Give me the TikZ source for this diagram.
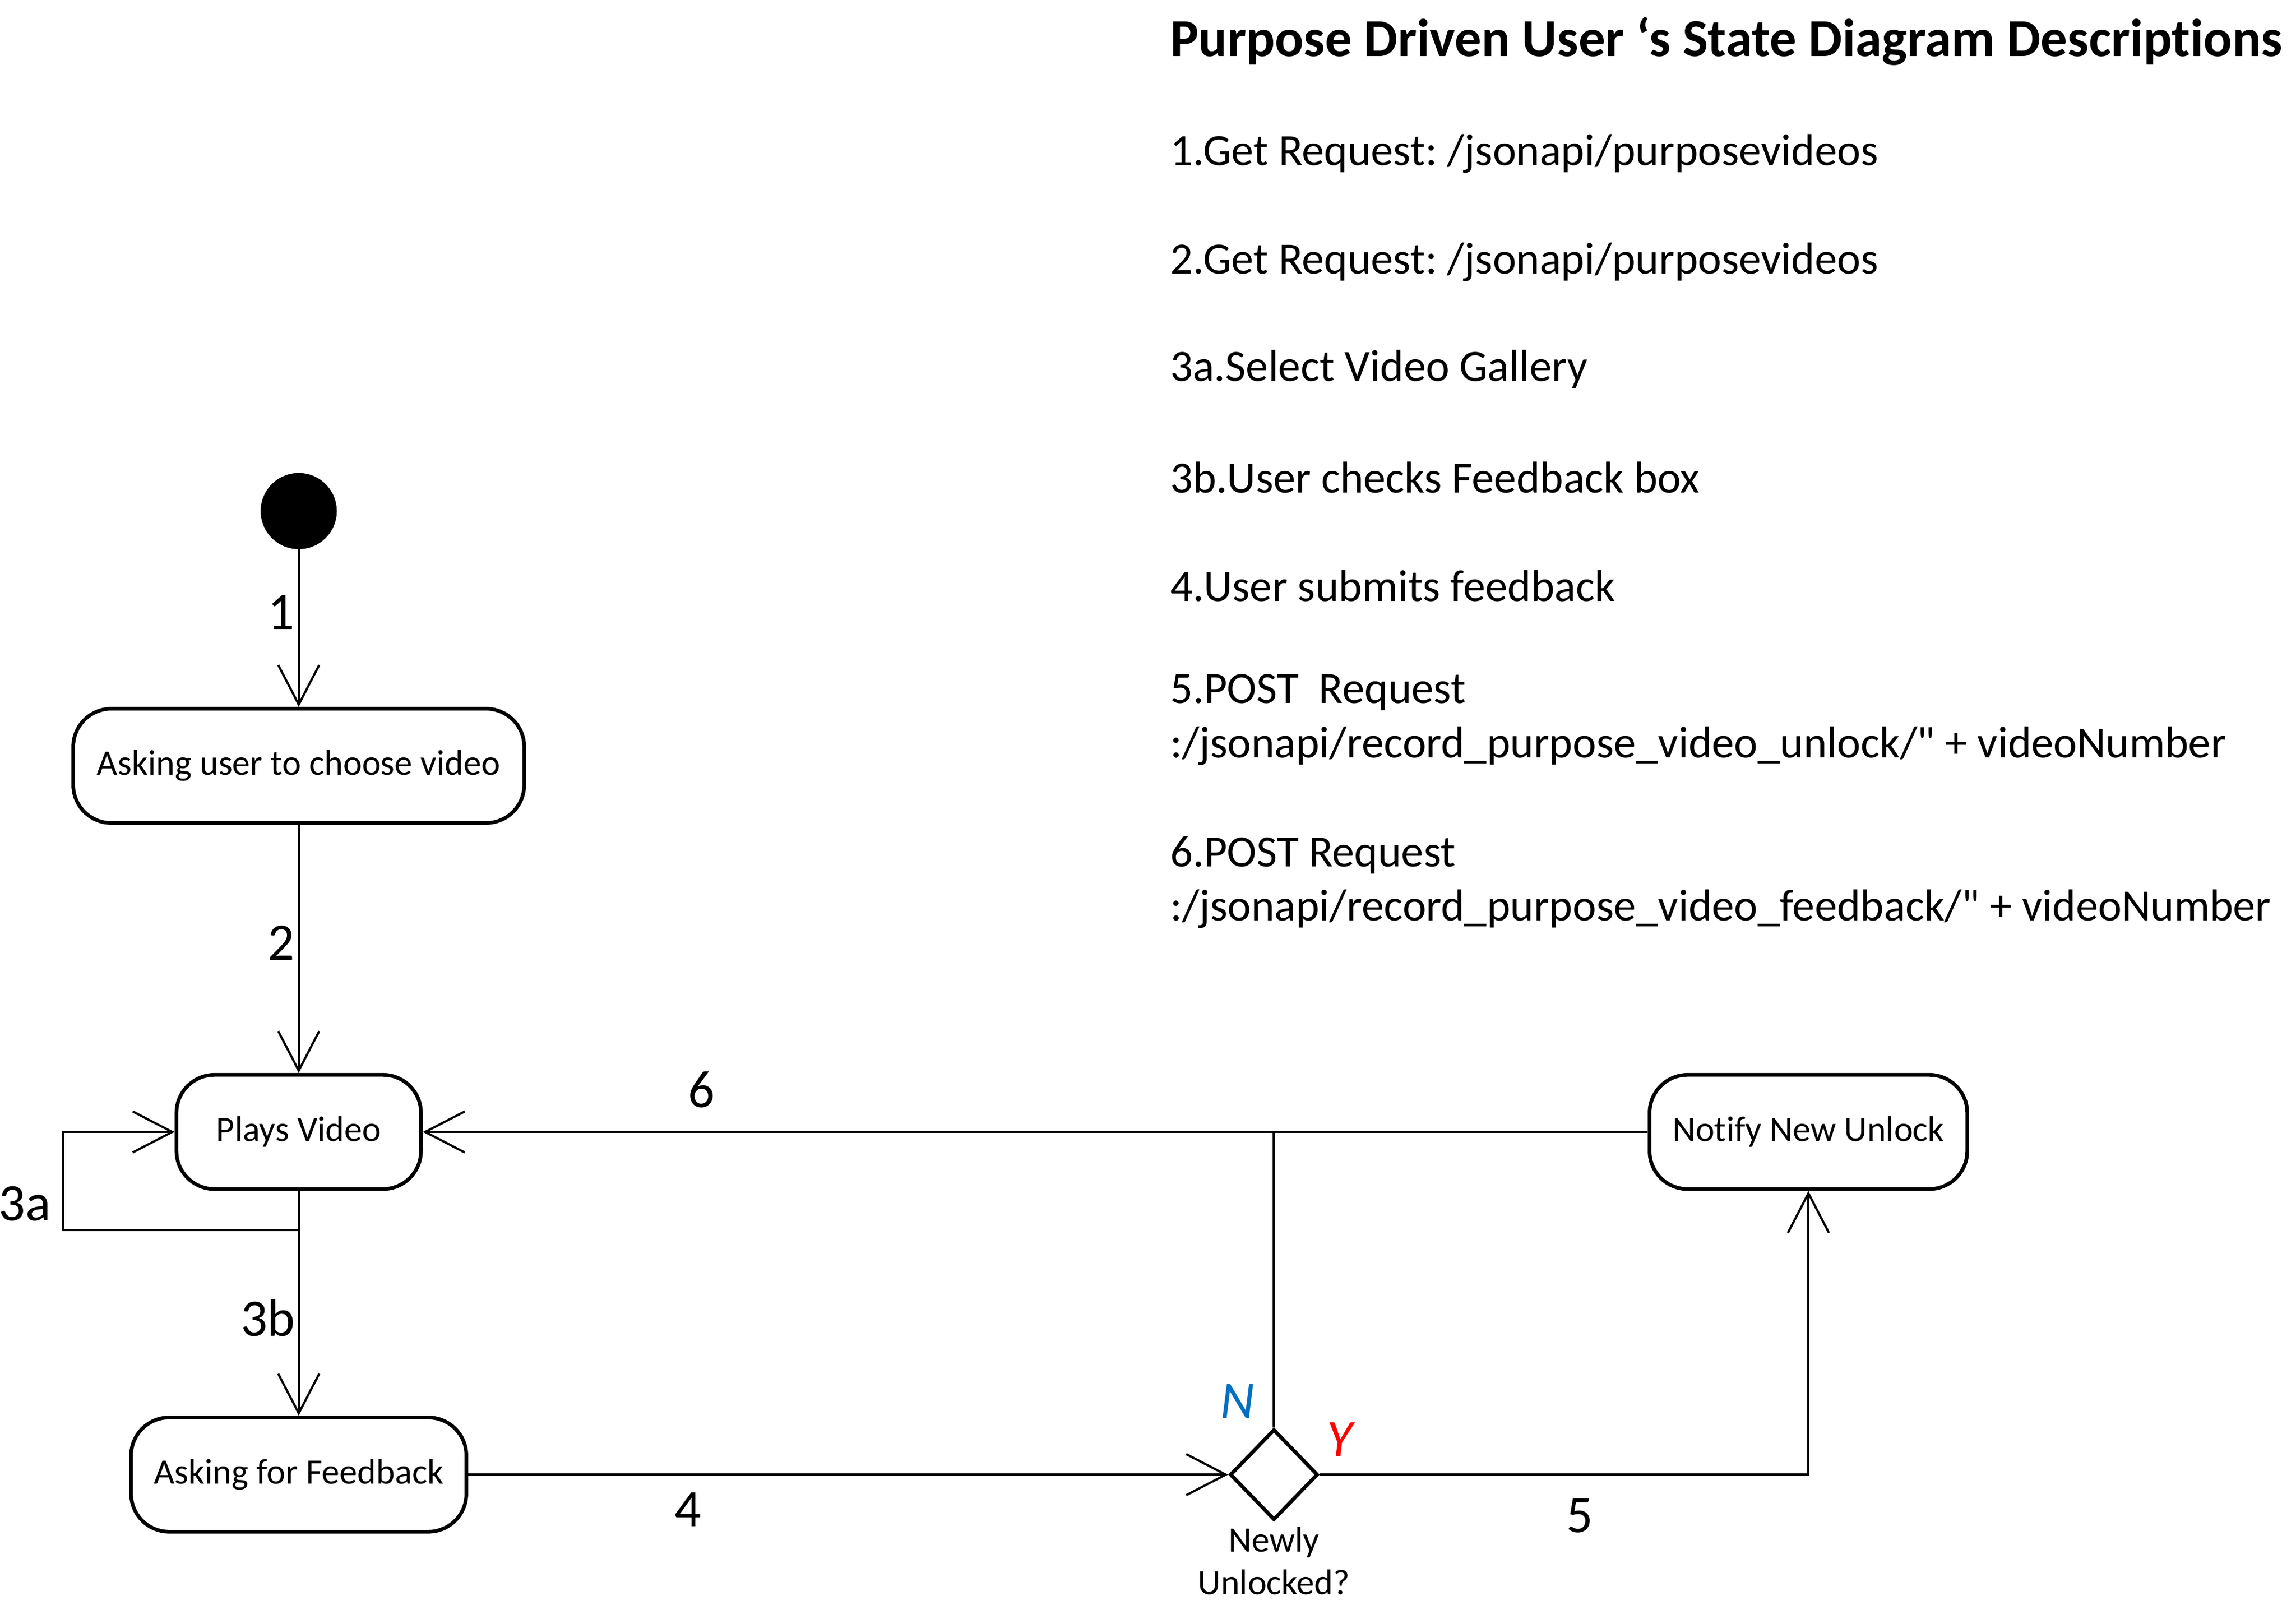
\documentclass[tikz,border=0pt]{standalone}
\usepackage{fontspec}
\setmainfont{Carlito}[Ligatures={NoCommon}]
\newcommand{\straightdq}{\XeTeXglyph\XeTeXcharglyph"0022\relax}
\frenchspacing
\usetikzlibrary{arrows.meta,shapes.geometric}
\definecolor{nblue}{RGB}{0,112,192}
\definecolor{yred}{RGB}{255,0,0}
\begin{document}
\begin{tikzpicture}[x=1pt,y=-1pt,
  state/.style={draw, line width=2.5pt, rounded corners=26pt, minimum height=78pt, inner sep=0pt, font=\fontsize{24.4}{29}\selectfont},
  conn/.style={line width=1.5pt},
  arr/.style={conn, -{Straight Barb[length=27pt,width=28pt]}},
  lab/.style={inner sep=0pt, font=\fontsize{36}{43}\selectfont},
  body/.style={anchor=west, inner sep=0pt, align=left, font=\fontsize{30.5}{37}\selectfont},
  yn/.style={inner sep=0pt, font=\fontsize{36}{43}\selectfont\itshape}]
\useasboundingbox (0,0) rectangle (1568,1096);
\fill[white] (0,0) rectangle (1568,1096);

% states
\node[circle, fill=black, minimum size=52pt, inner sep=0pt] (st) at (204,349) {};
\node[state, minimum width=308pt] (ask) at (204,523) {Asking user to choose video};
\node[state, minimum width=167pt] (play) at (204,773) {Plays Video};
\node[state, minimum width=229pt] (fb) at (204,1007) {Asking for Feedback};
\node[state, minimum width=217pt] (nfy) at (1235,773) {Notify New Unlock};
\node[diamond, draw, line width=2.5pt, minimum width=60pt, minimum height=62pt, inner sep=0pt] (dec) at (870,1007) {};
\node[align=center, inner sep=0pt, font=\fontsize{24.4}{29}\selectfont] (decl) at (870,1066) {Newly\\Unlocked?};

% connectors
\coordinate (j3) at (204,840);
\coordinate (k3) at (43,840);
\draw[arr] (st) -- (ask);
\draw[arr] (ask) -- (play);
\draw[arr] (j3) -- (k3) |- (play.west);
\draw[arr] (play) -- (fb);
\draw[arr] (fb) -- (dec);
\draw[arr] (nfy) -- (play);
\draw[conn] (dec.north) -- (dec.north |- nfy.west);
\draw[arr] (dec.east) -| (nfy.south);

% labels
\node[lab] (l1) at (192,418) {1};
\node[lab] (l2) at (192,644) {2};
\node[lab] (l3a) at (17,822) {3a};
\node[lab] (l3b) at (183,900) {3b};
\node[lab] (l4) at (470,1031) {4};
\node[lab] (l5) at (1079,1035) {5};
\node[lab] (l6) at (479,744) {6};
\node[yn, text=nblue] (ln) at (845,957) {N};
\node[yn, text=yred] (ly) at (915,983) {Y};

% descriptions
\node[anchor=west, inner sep=0pt, font=\bfseries\fontsize{36.5}{43}\selectfont] (title) at (799,28) {Purpose Driven User ‘s State Diagram Descriptions};
\node[body] (d1) at (799,105) {1.Get Request: /jsonapi/purposevideos};
\node[body] (d2) at (799,179) {2.Get Request: /jsonapi/purposevideos};
\node[body] (d3) at (799,252) {3a.Select Video Gallery};
\node[body] (d4) at (799,326) {3b.User checks Feedback box};
\node[body] (d5) at (799,400) {4.User submits feedback};
\node[body] (d6) at (799,491.5) {5.POST~ Request\\:/jsonapi/record\_purpose\_video\_unlock/\straightdq{} + videoNumber};
\node[body] (d7) at (799,602.5) {6.POST Request\\:/jsonapi/record\_purpose\_video\_feedback/\straightdq{} + videoNumber};
\end{tikzpicture}
\end{document}
